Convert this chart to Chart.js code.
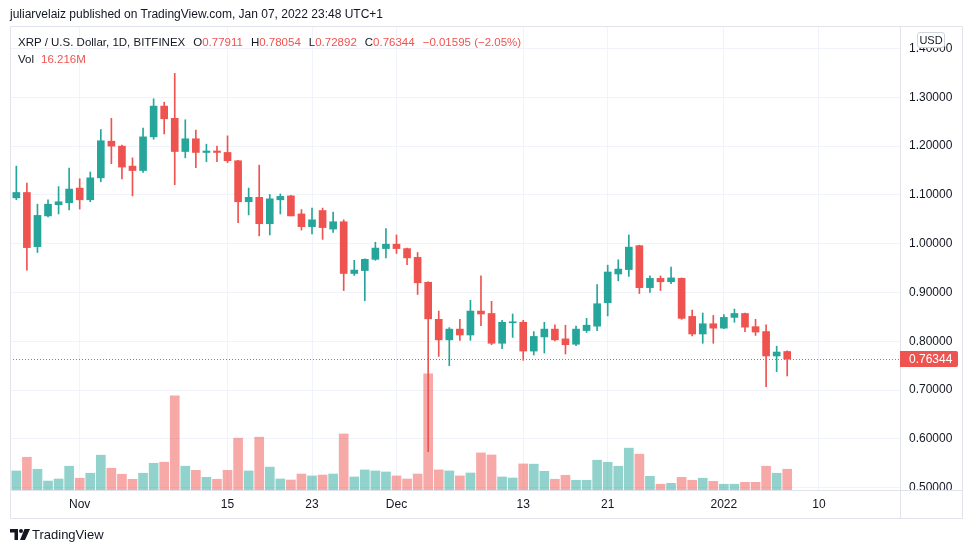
<!DOCTYPE html>
<html>
<head>
<meta charset="utf-8">
<title>XRP / U.S. Dollar, 1D, BITFINEX</title>
<script src="https://cdn.jsdelivr.net/npm/chart.js@4.4.1/dist/chart.umd.min.js"></script>
<style>
  html, body { margin: 0; padding: 0; background: #fff; }
  #wrap {
    position: relative; width: 973px; height: 553px; overflow: hidden;
    font-family: 'Liberation Sans', Arial, sans-serif; color: #131722;
  }
  #chart { position: absolute; left: 0; top: 0; }
  .txt { position: absolute; white-space: nowrap; font-size: 12px; line-height: 16px; }
  .num { color: #ef5350; }
  .gap { margin-left: 8px; }
  #usd {
    position: absolute; left: 917px; top: 32px; width: 26px; height: 14px;
    background: #fff; border: 1px solid #d1d4dc; border-radius: 3px;
    font-size: 11px; line-height: 14px; text-align: center;
  }
  #logo { position: absolute; left: 10px; top: 529px; }
</style>
</head>
<body>
<div id="wrap">
  <canvas id="chart" width="973" height="553"></canvas>
  <div class="txt" style="left:10px;top:6px;">juliarvelaiz published on TradingView.com, Jan 07, 2022 23:48 UTC+1</div>
  <div class="txt" style="left:18px;top:34px;font-size:11.5px;">XRP / U.S. Dollar, 1D, BITFINEX<span class="gap">O<span class="num">0.77911</span></span><span class="gap">H<span class="num">0.78054</span></span><span class="gap">L<span class="num">0.72892</span></span><span class="gap">C<span class="num">0.76344</span></span><span class="gap num">−0.01595 (−2.05%)</span></div>
  <div class="txt" style="left:18px;top:51px;font-size:11.5px;">Vol<span class="num" style="margin-left:7px;">16.216M</span></div>
  <div id="usd">USD</div>
  <svg id="logo" width="20" height="12" viewBox="0 0 20 12">
    <path d="M0 0H8V11H4.5V3.5H0Z" fill="#131722"/>
    <circle cx="11" cy="2" r="2" fill="#131722"/>
    <path d="M14.5 0H20L15 11H10Z" fill="#131722"/>
  </svg>
  <div class="txt" style="left:32px;top:527px;font-size:13px;">TradingView</div>
</div>
<script>
// daily candles, 26 Oct 2021 .. 7 Jan 2022 (x = day index)
const open = [
  1.094, 1.105, 0.994, 1.057, 1.080, 1.084, 1.114, 1.090, 1.135, 1.210,
  1.200, 1.159, 1.150, 1.219, 1.282, 1.257, 1.189, 1.215, 1.187, 1.190,
  1.187, 1.170, 1.086, 1.095, 1.041, 1.090, 1.098, 1.061, 1.035, 1.068,
  1.030, 1.045, 0.939, 0.945, 0.968, 0.990, 0.999, 0.990, 0.972, 0.921,
  0.845, 0.803, 0.825, 0.813, 0.862, 0.857, 0.796, 0.838, 0.839, 0.780,
  0.809, 0.825, 0.805, 0.794, 0.822, 0.831, 0.879, 0.938, 0.947, 0.996,
  0.910, 0.929, 0.922, 0.929, 0.851, 0.815, 0.836, 0.827, 0.849, 0.857,
  0.830, 0.820, 0.770, 0.77911
];
const high = [
  1.159, 1.124, 1.081, 1.090, 1.117, 1.155, 1.133, 1.147, 1.234, 1.257,
  1.202, 1.176, 1.237, 1.297, 1.290, 1.349, 1.254, 1.233, 1.204, 1.200,
  1.221, 1.171, 1.114, 1.161, 1.101, 1.102, 1.099, 1.070, 1.073, 1.073,
  1.065, 1.049, 0.966, 0.969, 1.003, 1.031, 1.018, 0.991, 0.982, 0.922,
  0.862, 0.828, 0.845, 0.884, 0.934, 0.882, 0.843, 0.856, 0.843, 0.820,
  0.839, 0.834, 0.833, 0.831, 0.847, 0.916, 0.956, 0.967, 1.018, 0.997,
  0.934, 0.934, 0.952, 0.930, 0.864, 0.858, 0.853, 0.855, 0.866, 0.858,
  0.845, 0.834, 0.790, 0.78054
];
const low = [
  1.090, 0.946, 0.982, 1.055, 1.061, 1.069, 1.071, 1.086, 1.127, 1.164,
  1.133, 1.098, 1.146, 1.214, 1.225, 1.121, 1.176, 1.156, 1.168, 1.168,
  1.166, 1.043, 1.059, 1.016, 1.018, 1.061, 1.057, 1.028, 1.020, 1.009,
  1.023, 0.904, 0.935, 0.883, 0.966, 0.971, 0.980, 0.957, 0.896, 0.574,
  0.769, 0.750, 0.802, 0.802, 0.832, 0.793, 0.785, 0.808, 0.761, 0.772,
  0.776, 0.801, 0.774, 0.791, 0.818, 0.822, 0.852, 0.924, 0.933, 0.898,
  0.900, 0.904, 0.918, 0.845, 0.811, 0.796, 0.796, 0.826, 0.839, 0.820,
  0.812, 0.707, 0.738, 0.72892
];
const close = [
  1.105, 0.992, 1.058, 1.081, 1.086, 1.112, 1.090, 1.135, 1.211, 1.200,
  1.157, 1.150, 1.219, 1.282, 1.256, 1.189, 1.215, 1.187, 1.190, 1.187,
  1.170, 1.086, 1.095, 1.041, 1.092, 1.097, 1.057, 1.035, 1.049, 1.033,
  1.045, 0.939, 0.946, 0.968, 0.991, 0.999, 0.990, 0.971, 0.920, 0.846,
  0.803, 0.825, 0.813, 0.862, 0.856, 0.796, 0.839, 0.840, 0.780, 0.810,
  0.825, 0.803, 0.793, 0.825, 0.833, 0.877, 0.942, 0.948, 0.993, 0.910,
  0.929, 0.922, 0.930, 0.847, 0.815, 0.836, 0.827, 0.849, 0.857, 0.829,
  0.819, 0.770, 0.778, 0.76344
];
// volume, millions
const volume = [
  14.9, 25.6, 16.2, 7.0, 8.6, 18.6, 9.2, 13.1, 27.2, 17.0,
  12.3, 8.4, 13.1, 20.9, 21.7, 73.6, 18.6, 15.4, 9.9, 8.4,
  15.4, 40.5, 14.9, 41.3, 17.9, 8.6, 7.8, 12.5, 11.0, 11.7,
  12.5, 43.8, 10.2, 15.7, 14.9, 14.1, 11.0, 8.6, 12.5, 90.8,
  15.7, 14.9, 11.0, 13.3, 29.0, 27.4, 10.2, 9.4, 20.4, 20.2,
  14.6, 8.4, 11.5, 7.6, 7.6, 23.3, 21.7, 18.6, 32.7, 28.0,
  10.7, 4.5, 5.2, 9.9, 7.6, 9.2, 6.8, 4.5, 4.5, 6.0,
  6.0, 18.6, 13.1, 16.216
];
const lastPrice = 0.76344;

// x axis: day index of each label (0 = 26 Oct)
const dayTicks = [6, 20, 28, 36, 48, 56, 67, 76];
const dayLabels = ['Nov', '15', '23', 'Dec', '13', '21', '2022', '10'];
const priceTicks = [0.5, 0.6, 0.7, 0.8, 0.9, 1.0, 1.1, 1.2, 1.3, 1.4];

const UP = '#26a69a', DOWN = '#ef5350';
const UP_VOL = 'rgba(38, 166, 154, 0.5)', DOWN_VOL = 'rgba(239, 83, 80, 0.5)';
const GRID = '#f0f3fa', FRAME = '#e0e3eb', TEXT = '#131722';
const FONT = "'Liberation Sans', Arial, sans-serif";

const isUp = close.map((c, i) => c >= open[i]);
const candleColor = isUp.map(u => u ? UP : DOWN);
const volColor = isUp.map(u => u ? UP_VOL : DOWN_VOL);

const wicks = low.map((l, i) => ({ x: i, y: [l, high[i]] }));
const bodies = open.map((o, i) => ({ x: i, y: [o, close[i]] }));
const vols = volume.map((v, i) => ({ x: i, y: v }));

/**
 * Frame lines, last price marker and the clip of the lowest price label.
 */
const tvFrame = {
    id: 'tvFrame',
    beforeDatasetsDraw(chart) {
        const { ctx, chartArea } = chart;
        const y = chart.scales.y.getPixelForValue(lastPrice);
        ctx.save();
        ctx.strokeStyle = DOWN;
        ctx.lineWidth = 1;
        ctx.setLineDash([1, 2]);
        ctx.beginPath();
        ctx.moveTo(chartArea.left, Math.round(y) + 0.5);
        ctx.lineTo(chartArea.right, Math.round(y) + 0.5);
        ctx.stroke();
        ctx.restore();
    },
    afterDraw(chart) {
        const { ctx, chartArea } = chart;
        const { left, right, bottom } = chartArea;
        const outerRight = 962, outerTop = 26, outerBottom = 518;

        ctx.save();
        // the 0.50000 label is cut by the pane bottom
        ctx.fillStyle = '#fff';
        ctx.fillRect(right + 1, bottom + 1, outerRight - right - 1, outerBottom - bottom - 1);

        ctx.strokeStyle = FRAME;
        ctx.lineWidth = 1;
        ctx.beginPath();
        ctx.rect(left + 0.5, outerTop + 0.5, outerRight - left, outerBottom - outerTop);
        ctx.moveTo(left, bottom + 0.5);
        ctx.lineTo(outerRight, bottom + 0.5);
        ctx.moveTo(right + 0.5, outerTop);
        ctx.lineTo(right + 0.5, outerBottom);
        ctx.stroke();

        // last price label
        const y = Math.round(chart.scales.y.getPixelForValue(lastPrice));
        ctx.fillStyle = DOWN;
        ctx.beginPath();
        ctx.roundRect(right, y - 8, 58, 16, [0, 2, 2, 0]);
        ctx.fill();
        ctx.fillStyle = '#fff';
        ctx.font = '12px ' + FONT;
        ctx.textBaseline = 'middle';
        ctx.fillText(lastPrice.toFixed(5), right + 9, y + 1);
        ctx.restore();
    }
};

new Chart(document.getElementById('chart'), {
    type: 'bar',
    data: {
        datasets: [
            {
                data: vols,
                yAxisID: 'vol',
                backgroundColor: volColor,
                barThickness: 9,
                order: 3,
            },
            {
                data: wicks,
                backgroundColor: candleColor,
                barThickness: 1,
                order: 2,
            },
            {
                data: bodies,
                backgroundColor: candleColor,
                barThickness: 7,
                minBarLength: 1,
                order: 1,
            },
        ],
    },
    options: {
        responsive: false,
        animation: false,
        devicePixelRatio: 1,
        layout: { padding: { left: 10, right: 10, top: 27, bottom: 35 } },
        datasets: { bar: { grouped: false, borderWidth: 0 } },
        plugins: {
            legend: { display: false },
            tooltip: { enabled: false },
        },
        scales: {
            x: {
                type: 'linear',
                min: -0.6,
                max: 83.68,
                offset: false,
                afterBuildTicks: (scale) => {
                    scale.ticks = dayTicks.map(v => ({ value: v }));
                },
                afterFit: (scale) => { scale.height = 28; },
                grid: { color: GRID, drawTicks: false, offset: false },
                border: { display: false },
                ticks: {
                    autoSkip: false,
                    maxRotation: 0,
                    padding: 7,
                    color: TEXT,
                    font: { family: FONT, size: 12 },
                    callback: (value, index) => dayLabels[index],
                },
            },
            y: {
                position: 'right',
                min: 0.4953,
                max: 1.4441,
                afterBuildTicks: (scale) => {
                    scale.ticks = priceTicks.map(v => ({ value: v }));
                },
                afterFit: (scale) => { scale.width = 63; },
                grid: { color: GRID, drawTicks: false },
                border: { display: false },
                ticks: {
                    padding: 9,
                    color: TEXT,
                    font: { family: FONT, size: 12 },
                    callback: (value) => value.toFixed(5),
                },
            },
            vol: {
                display: false,
                min: 0,
                max: 362,
            },
        },
    },
    plugins: [tvFrame],
});
</script>
</body>
</html>
